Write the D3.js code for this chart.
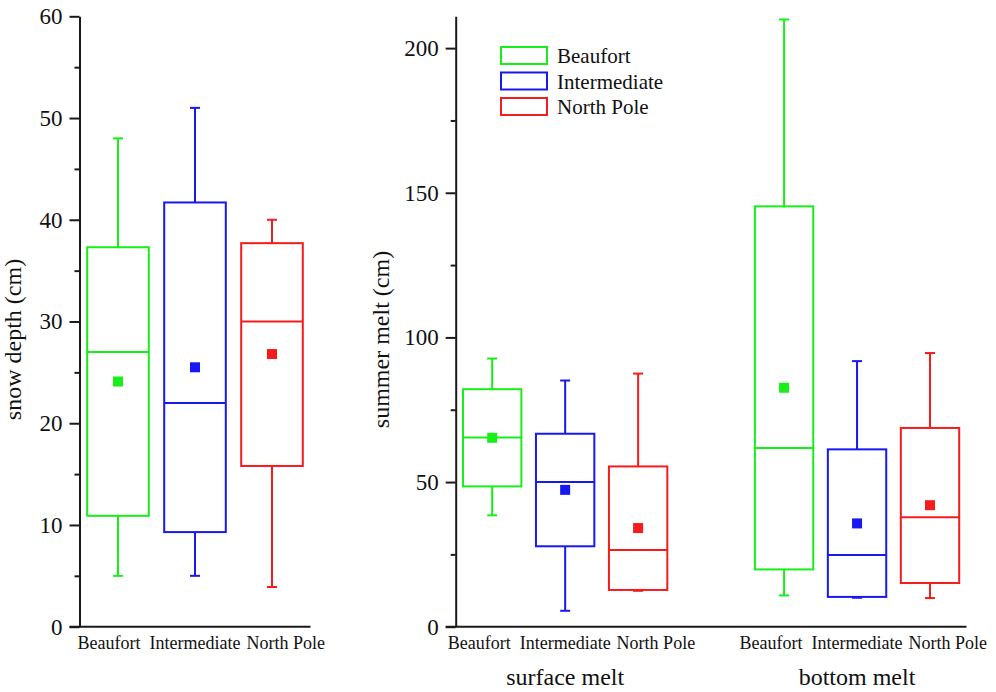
<html>
    <head>
        <script src="https://d3js.org/d3.v7.min.js"></script>
        <style>
            body {
                margin: 0;
                background: white;
                font-family: "Liberation Serif", "Times New Roman", serif;
            }
            .axis path, .axis line {
                stroke: #1a1a1a;
                stroke-width: 2px;
            }
            .axis text {
                font-family: "Liberation Serif", serif;
                font-size: 23px;
                fill: #111;
            }
        </style>
    </head>
    <body>
        <svg id="chart" width="996" height="692"></svg>

        <script>
            // categories
            const locations = ["Beaufort", "Intermediate", "North Pole"];
            const colors = ["#18ee18", "#1818f0", "#f51c1c"];
            const meltGroups = ["surface melt", "bottom melt"];

            // snow depth (cm), one value per location
            const snowMin    = [5.0, 5.0, 3.9];
            const snowQ1     = [10.9, 9.3, 15.8];
            const snowMedian = [27.0, 22.0, 30.0];
            const snowQ3     = [37.3, 41.7, 37.7];
            const snowMax    = [48.0, 51.0, 40.0];
            const snowMean   = [24.1, 25.5, 26.8];

            // surface melt (cm)
            const surfMin    = [38.5, 5.5, 12.4];
            const surfQ1     = [48.5, 27.8, 12.7];
            const surfMedian = [65.4, 50.0, 26.5];
            const surfQ3     = [82.1, 66.7, 55.4];
            const surfMax    = [92.7, 85.1, 87.5];
            const surfMean   = [65.3, 47.3, 34.1];

            // bottom melt (cm)
            const botMin     = [10.8, 10.0, 9.9];
            const botQ1      = [19.8, 10.3, 15.1];
            const botMedian  = [61.8, 24.8, 37.8];
            const botQ3      = [145.3, 61.3, 68.7];
            const botMax     = [209.9, 91.8, 94.6];
            const botMean    = [82.6, 35.7, 42.0];

            // tick values
            const snowTicks = [0, 10, 20, 30, 40, 50, 60];
            const snowMinor = [5, 15, 25, 35, 45, 55];
            const meltTicks = [0, 50, 100, 150, 200];
            const meltMinor = [25, 75, 125, 175];

            const svg = d3.select("#chart");
            const baseY = 626.7;
            const topY = 16.3;

            const makeStats = (mn, q1, med, q3, mx, mean) =>
                locations.map((loc, i) => ({
                    loc: loc, color: colors[i],
                    min: mn[i], q1: q1[i], median: med[i], q3: q3[i], max: mx[i], mean: mean[i]
                }));

            function drawBoxes(g, stats, x, y) {
                const bw = x.bandwidth();
                const box = g.selectAll("g.box").data(stats)
                             .join("g")
                             .attr("class", "box")
                             .attr("fill", "none")
                             .attr("stroke", d => d.color)
                             .attr("stroke-width", 2);

                // whiskers
                box.append("line")
                   .attr("x1", d => x(d.loc) + bw / 2).attr("x2", d => x(d.loc) + bw / 2)
                   .attr("y1", d => y(d.q3)).attr("y2", d => y(d.max));
                box.append("line")
                   .attr("x1", d => x(d.loc) + bw / 2).attr("x2", d => x(d.loc) + bw / 2)
                   .attr("y1", d => y(d.q1)).attr("y2", d => y(d.min));
                box.append("line")
                   .attr("x1", d => x(d.loc) + bw / 2 - 5).attr("x2", d => x(d.loc) + bw / 2 + 5)
                   .attr("y1", d => y(d.max)).attr("y2", d => y(d.max));
                box.append("line")
                   .attr("x1", d => x(d.loc) + bw / 2 - 5).attr("x2", d => x(d.loc) + bw / 2 + 5)
                   .attr("y1", d => y(d.min)).attr("y2", d => y(d.min));

                box.append("rect")
                   .attr("x", d => x(d.loc))
                   .attr("width", bw)
                   .attr("y", d => y(d.q3))
                   .attr("height", d => y(d.q1) - y(d.q3))
                   .attr("fill", "white");

                box.append("line")
                   .attr("x1", d => x(d.loc)).attr("x2", d => x(d.loc) + bw)
                   .attr("y1", d => y(d.median)).attr("y2", d => y(d.median));

                box.append("rect")
                   .attr("x", d => x(d.loc) + bw / 2 - 5)
                   .attr("y", d => y(d.mean) - 5)
                   .attr("width", 10).attr("height", 10)
                   .attr("fill", d => d.color)
                   .attr("stroke", "none");
            }

            function drawCategoryLabels(g, x) {
                const mid = x(locations[1]) + x.bandwidth() / 2;
                const labels = g.append("g")
                                .style("font-size", "18px")
                                .attr("fill", "#111");
                const midText = labels.append("text")
                                      .attr("x", mid).attr("y", 648.5)
                                      .attr("text-anchor", "middle")
                                      .text(locations[1]);
                const half = midText.node().getComputedTextLength() / 2;
                labels.append("text")
                      .attr("x", mid - half - 9).attr("y", 648.5)
                      .attr("text-anchor", "end")
                      .text(locations[0]);
                labels.append("text")
                      .attr("x", mid + half + 6).attr("y", 648.5)
                      .attr("text-anchor", "start")
                      .text(locations[2]);
            }

            function drawYAxis(g, y, ticks, minor, axisX) {
                g.append("g")
                 .attr("class", "axis")
                 .attr("transform", "translate(" + axisX + ",0)")
                 .call(d3.axisLeft(y).tickValues(minor).tickSize(5).tickSizeOuter(0).tickFormat(""))
                 .call(a => a.select(".domain").remove());
                g.append("g")
                 .attr("class", "axis")
                 .attr("transform", "translate(" + axisX + ",0)")
                 .call(d3.axisLeft(y).tickValues(ticks).tickSize(10).tickSizeOuter(0).tickPadding(7));
            }

            // ---------- left panel: snow depth ----------
            const leftAxisX = 79.5;
            const ySnow = d3.scaleLinear().domain([0, 60]).range([baseY, topY]);
            const xSnow = d3.scaleBand().domain(locations)
                            .range([leftAxisX, leftAxisX + 231])
                            .paddingInner(0.2).paddingOuter(0.1);

            const left = svg.append("g");
            drawBoxes(left, makeStats(snowMin, snowQ1, snowMedian, snowQ3, snowMax, snowMean), xSnow, ySnow);
            drawYAxis(left, ySnow, snowTicks, snowMinor, leftAxisX);
            left.append("line")
                .attr("x1", leftAxisX - 10).attr("x2", xSnow.range()[1])
                .attr("y1", ySnow(0)).attr("y2", ySnow(0))
                .attr("stroke", "#1a1a1a").attr("stroke-width", 2);
            drawCategoryLabels(left, xSnow);
            left.append("text")
                .attr("transform", "translate(21," + ((baseY + topY) / 2 + 18) + ") rotate(-90)")
                .attr("text-anchor", "middle")
                .style("font-size", "24px")
                .attr("fill", "#111")
                .text("snow depth (cm)");

            // ---------- right panel: summer melt ----------
            const rightAxisX = 455.7;
            const yMelt = d3.scaleLinear().domain([0, 211]).range([baseY, topY]);
            const xGroup = d3.scaleBand().domain(meltGroups)
                             .range([rightAxisX, 966.5])
                             .paddingInner(0.25).paddingOuter(0);
            const xLoc = d3.scaleBand().domain(locations)
                           .range([0, xGroup.bandwidth()])
                           .paddingInner(0.2).paddingOuter(0.1);

            const right = svg.append("g");
            const groupStats = [
                makeStats(surfMin, surfQ1, surfMedian, surfQ3, surfMax, surfMean),
                makeStats(botMin, botQ1, botMedian, botQ3, botMax, botMean)
            ];
            meltGroups.forEach((grp, i) => {
                const gg = right.append("g")
                                .attr("transform", "translate(" + xGroup(grp) + ",0)");
                drawBoxes(gg, groupStats[i], xLoc, yMelt);
                drawCategoryLabels(gg, xLoc);
                gg.append("text")
                  .attr("x", xGroup.bandwidth() / 2)
                  .attr("y", 685)
                  .attr("text-anchor", "middle")
                  .style("font-size", "24px")
                  .attr("fill", "#111")
                  .text(grp);
            });
            drawYAxis(right, yMelt, meltTicks, meltMinor, rightAxisX);
            right.append("line")
                 .attr("x1", rightAxisX - 10).attr("x2", xGroup.range()[1])
                 .attr("y1", yMelt(0)).attr("y2", yMelt(0))
                 .attr("stroke", "#1a1a1a").attr("stroke-width", 2);
            right.append("text")
                 .attr("transform", "translate(389," + ((baseY + topY) / 2 + 18) + ") rotate(-90)")
                 .attr("text-anchor", "middle")
                 .style("font-size", "24px")
                 .attr("fill", "#111")
                 .text("summer melt (cm)");

            // legend
            const legend = right.append("g")
                                .attr("transform", "translate(501,47)");
            const item = legend.selectAll("g").data(locations)
                               .join("g")
                               .attr("transform", (d, i) => "translate(0," + (i * 25.5) + ")");
            item.append("rect")
                .attr("width", 46).attr("height", 17)
                .attr("fill", "none")
                .attr("stroke", (d, i) => colors[i])
                .attr("stroke-width", 2);
            item.append("text")
                .attr("x", 56).attr("y", 16)
                .style("font-size", "21px")
                .attr("fill", "#111")
                .text(d => d);
        </script>
    </body>
</html>
